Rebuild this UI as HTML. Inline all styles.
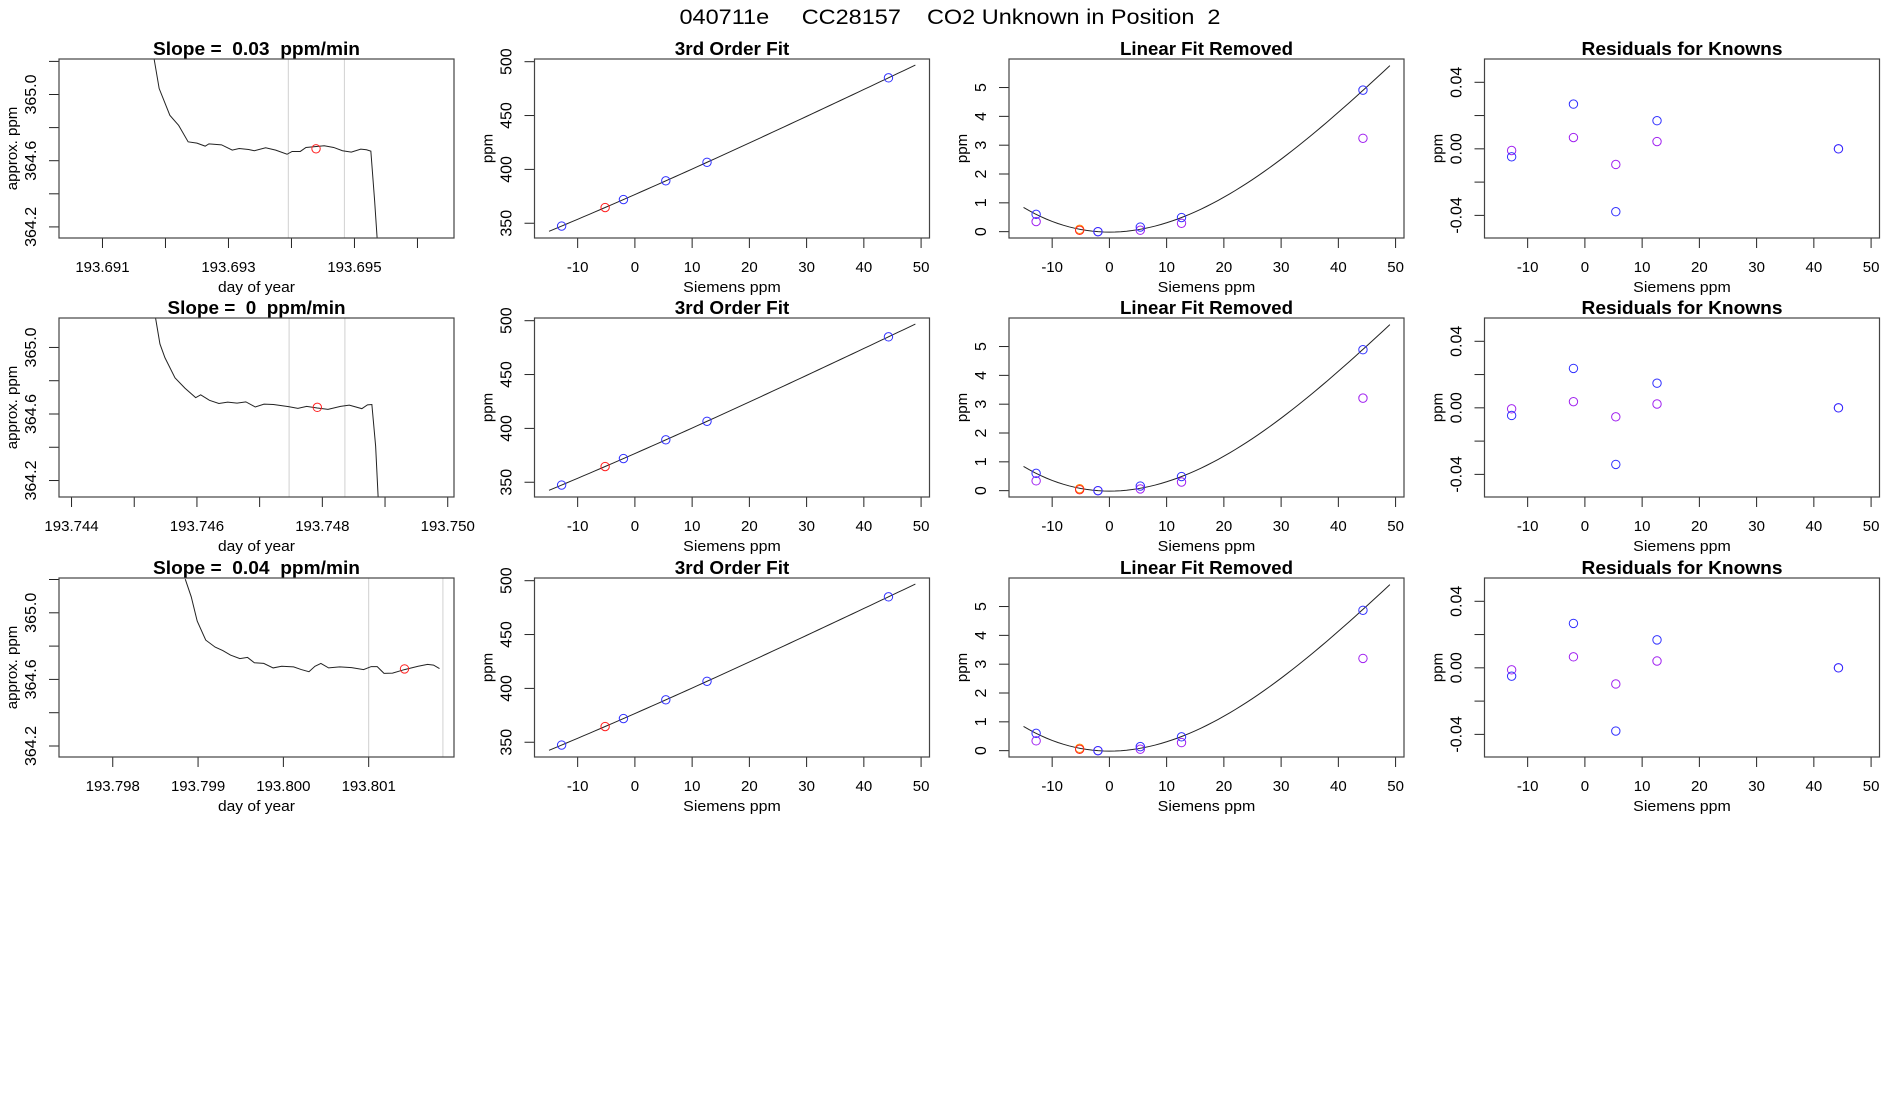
<!DOCTYPE html>
<html><head><meta charset="utf-8"><style>
html,body{margin:0;padding:0;background:#fff;}
svg{display:block;font-family:"Liberation Sans",Arial,sans-serif;}
</style></head><body>
<svg id="fig" width="1900" height="1100" viewBox="0 0 1900 1100" xmlns="http://www.w3.org/2000/svg">
<rect x="0" y="0" width="1900" height="1100" fill="#fff"/>
<text x="950" y="24" text-anchor="middle" font-size="21" textLength="541" lengthAdjust="spacingAndGlyphs" style="white-space:pre">040711e     CC28157    CO2 Unknown in Position  2</text>
</svg>
<script>
// ---- Time-series panels (column 1) ----
const row1Times=[193.69182,193.69190,193.69207,193.69221,193.69236,193.69250,193.69263,193.69269,193.69289,193.69306,193.69317,193.69332,193.69341,193.69359,193.69375,193.69393,193.69401,193.69414,193.69423,193.69452,193.69467,193.69481,193.69495,193.69510,193.69519,193.69526,193.69532,193.69536];
const row1Values=[365.214,365.036,364.874,364.813,364.714,364.706,364.688,364.702,364.696,364.664,364.674,364.668,364.660,364.678,364.664,364.639,364.656,364.656,364.680,364.690,364.680,364.660,364.652,364.670,364.666,364.658,364.358,364.131];
const row2Times=[193.74534,193.74541,193.74549,193.74565,193.74581,193.74598,193.74606,193.74620,193.74635,193.74649,193.74664,193.74678,193.74693,193.74707,193.74722,193.74746,193.74761,193.74775,193.74792,193.74809,193.74829,193.74843,193.74863,193.74872,193.74879,193.74885,193.74889];
const row2Values=[365.177,365.021,364.938,364.817,364.755,364.698,364.715,364.682,364.663,364.671,364.665,364.673,364.642,364.659,364.657,364.644,364.634,364.646,364.636,364.628,364.646,364.653,364.632,364.655,364.657,364.407,364.101];
const row3Times=[193.79885,193.79892,193.79899,193.79909,193.79920,193.79929,193.79938,193.79949,193.79958,193.79966,193.79977,193.79988,193.79998,193.80012,193.80021,193.80030,193.80037,193.80044,193.80053,193.80066,193.80080,193.80094,193.80103,193.80110,193.80118,193.80128,193.80142,193.80158,193.80169,193.80176,193.80183];
const row3Values=[365.202,365.096,364.950,364.836,364.794,364.773,364.746,364.725,364.732,364.700,364.696,364.669,364.679,364.675,364.659,364.646,364.679,364.696,364.669,364.675,364.671,364.659,364.677,364.677,364.636,364.638,364.659,364.679,364.690,364.686,364.665];
const markTimes=[193.69439,193.74792,193.80142];
const markValues=[364.672,364.640,364.663];
const windowStart=[193.69395,193.74747,193.80100];
const windowEnd=[193.69484,193.74836,193.80187];
const slopeLabels=["0.03","0","0.04"];
const xRanges=[[193.69031,193.69658],[193.7438,193.7501],[193.79737,193.80200]];
const yRanges=[[364.133,365.2145],[364.101,365.177],[364.134,365.209]];
const xTicks=[[193.691,193.692,193.693,193.694,193.695,193.696],[193.744,193.745,193.746,193.747,193.748,193.749,193.750],[193.798,193.799,193.800,193.801]];
const xTickLabels=[["193.691","","193.693","","193.695",""],["193.744","","193.746","","193.748","","193.750"],["193.798","193.799","193.800","193.801"]];
const yTicks1=[364.2,364.4,364.6,364.8,365.0,365.2];
const yTickLabels1=["364.2","","364.6","","365.0",""];
// ---- Calibration panels ----
const siemensX=[-12.8,-5.2,-2.0,5.4,12.6,44.3];
const fitPpm=[347.4,364.6,372.0,389.4,406.6,485.0];
const linSlope=[2.335]; const linIntercept=[376.67];
const lfrCoef=[-0.0144,-0.0002,0.003462,-0.0000215];
const lfrBlue=[[0.60,0.00,0.16,0.49,4.91],[0.60,0.00,0.16,0.49,4.89],[0.60,0.00,0.14,0.48,4.87]];
const lfrPurple=[[0.35,0.00,0.05,0.29,3.24],[0.34,0.00,0.06,0.30,3.21],[0.34,0.00,0.05,0.28,3.20]];
const lfrOrange=[0.08,0.07,0.08];
const knownX=[-12.8,-2.0,5.4,12.6,44.3];
const residBlue=[[-0.0048,0.0269,-0.0378,0.0169,0.0],[-0.0046,0.0237,-0.0340,0.0148,0.0],[-0.0050,0.0267,-0.0380,0.0168,0.0]];
const residPurple=[[-0.0010,0.0068,-0.0094,0.0044,0.0],[-0.0006,0.0037,-0.0054,0.0023,0.0],[-0.0012,0.0066,-0.0097,0.0041,0.0]];
const sTicks=[-10,0,10,20,30,40,50];
const ppmTicks=[350,400,450,500];
const lfrTicks=[0,1,2,3,4,5];
const resTicks=[-0.04,-0.02,0,0.02,0.04];
const resTickLabels=["-0.04","","0.00","","0.04"];

const NS="http://www.w3.org/2000/svg";
const svg=document.getElementById('fig');
const rowTop=[59,318,578], lefts=[59,534.5,1009,1484.5], PW=395, PH=179;
function el(tag,attrs,parent){const e=document.createElementNS(NS,tag);for(const k in attrs)e.setAttribute(k,attrs[k]);(parent||svg).appendChild(e);return e;}
function sc(d0,d1,r0,r1){return v=>r0+(v-d0)/(d1-d0)*(r1-r0);}
let clipId=0;
function panel(L,T,title,titleLen,xt,xtl,xs,yt,ytl,ys,xlab,xlabLen,ylab,name){
  const g=el('g',{});
  
  
  const B=T+PH,R=L+PW;
  const cid='c'+(clipId++);
  const cp=el('clipPath',{id:cid},g);el('rect',{x:L,y:T,width:PW,height:PH},cp);
  const t=el('text',{x:L+PW/2,y:T-4,'text-anchor':'middle','font-size':18,'font-weight':'bold',textLength:titleLen,lengthAdjust:'spacingAndGlyphs',style:'white-space:pre'},g);
  t.textContent=title;
  
  
  const ax=el('g',{},g);
  
  
  const xp=xt.map(xs);
  el('line',{x1:xp[0],x2:xp[xp.length-1],y1:B,y2:B,stroke:'#222','stroke-width':1},ax);
  xt.forEach((v,i)=>{const x=xs(v);el('line',{x1:x,x2:x,y1:B,y2:B+10,stroke:'#222'},ax);
    if(xtl[i]){const tx=el('text',{x:x,y:B+34,'text-anchor':'middle','font-size':15},ax);tx.textContent=xtl[i];
    
    }});
  const ay=el('g',{},g);
  
  
  const yp=yt.map(ys);
  el('line',{x1:L,x2:L,y1:yp[0],y2:yp[yp.length-1],stroke:'#222'},ay);
  yt.forEach((v,i)=>{const y=ys(v);el('line',{x1:L-10,x2:L,y1:y,y2:y,stroke:'#222'},ay);
    if(ytl[i]){const ty=el('text',{x:0,y:0,'text-anchor':'middle','font-size':16,transform:`translate(${L-23},${y}) rotate(-90)`},ay);ty.textContent=ytl[i];
    
    }});
  const xl=el('text',{x:L+PW/2,y:B+54,'text-anchor':'middle','font-size':15,textLength:xlabLen,lengthAdjust:'spacingAndGlyphs'},g);xl.textContent=xlab;
  
  
  const yl=el('text',{x:0,y:0,'text-anchor':'middle','font-size':15,transform:`translate(${L-42},${T+PH/2}) rotate(-90)`},g);yl.textContent=ylab;
  
  
  const plot=el('g',{'clip-path':`url(#${cid})`},g);
  el('rect',{x:L,y:T,width:PW,height:PH,fill:'none',stroke:'#444','stroke-width':1.2},g);
  return plot;
}
function circ(p,x,y,col,name){const c=el('circle',{cx:x,cy:y,r:4.2,fill:'none',stroke:col,'stroke-width':1},p);
  
  return c;}
const series=[[row1Times,row1Values],[row2Times,row2Values],[row3Times,row3Values]];
const sx=sc(-17.54,51.47,0,PW);
for(let r=0;r<3;r++){
  const T=rowTop[r],B=T+PH;
  let L=lefts[0];
  let xs=sc(xRanges[r][0],xRanges[r][1],L,L+PW), ys=sc(yRanges[r][0],yRanges[r][1],B,T);
  const yt=yTicks1.filter(v=>v<=yRanges[r][1]+0.01), ytl=yTickLabels1.slice(0,yt.length);
  let p=panel(L,T,`Slope =  ${slopeLabels[r]}  ppm/min`,slopeLabels[r].length>1?207:178,xTicks[r],xTickLabels[r],xs,yt,ytl,ys,'day of year',77,'approx. ppm','time-series-panel-'+(r+1));
  [windowStart[r],windowEnd[r]].forEach(w=>{const ln=el('line',{x1:xs(w),x2:xs(w),y1:T,y2:B,stroke:'#d0d0d0'},p);
    
    });
  const pl=el('polyline',{points:series[r][0].map((t,i)=>xs(t)+','+ys(series[r][1][i])).join(' '),fill:'none',stroke:'#222','stroke-width':1},p);
  
  
  circ(p,xs(markTimes[r]),ys(markValues[r]),'#ff2020','sample-mean-point');
  L=lefts[1]; xs=v=>L+sx(v); ys=sc(336.3,502.5,B,T);
  p=panel(L,T,'3rd Order Fit',114.5,sTicks,sTicks.map(String),xs,ppmTicks,ppmTicks.map(String),ys,'Siemens ppm',97.6,'ppm','fit-panel-'+(r+1));
  const fx=[];for(let x=-15;x<=49.01;x+=1)fx.push(x);
  const lfr=x=>lfrCoef[0]+lfrCoef[1]*x+lfrCoef[2]*x*x+lfrCoef[3]*x*x*x;
  const fl=el('polyline',{points:fx.map(x=>xs(x)+','+ys(linIntercept[0]+linSlope[0]*x+lfr(x))).join(' '),fill:'none',stroke:'#222'},p);
  
  
  siemensX.forEach((x,i)=>circ(p,xs(x),ys(fitPpm[i]),i===1?'#ff2020':'#3030ff','fit-point'));
  L=lefts[2]; const xs3=v=>L+sx(v); ys=sc(-0.22,5.99,B,T);
  p=panel(L,T,'Linear Fit Removed',173,sTicks,sTicks.map(String),xs3,lfrTicks,lfrTicks.map(String),ys,'Siemens ppm',97.6,'ppm','linear-removed-panel-'+(r+1));
  const cl=el('polyline',{points:fx.map(x=>xs3(x)+','+ys(lfr(x))).join(' '),fill:'none',stroke:'#222'},p);
  
  
  knownX.forEach((x,i)=>circ(p,xs3(x),ys(lfrPurple[r][i]),'#a020f0','purple-point'));
  knownX.forEach((x,i)=>circ(p,xs3(x),ys(lfrBlue[r][i]),'#3030ff','blue-point'));
  circ(p,xs3(siemensX[1]),ys(lfrOrange[r]),'#ff8c00','unknown-orange-point');
  circ(p,xs3(siemensX[1]),ys(lfrOrange[r])+1,'#ff2020','unknown-red-point');
  L=lefts[3]; const xs4=v=>L+sx(v); ys=sc(-0.0536,0.054,B,T);
  p=panel(L,T,'Residuals for Knowns',201,sTicks,sTicks.map(String),xs4,resTicks,resTickLabels,ys,'Siemens ppm',97.6,'ppm','residuals-panel-'+(r+1));
  knownX.forEach((x,i)=>circ(p,xs4(x),ys(residPurple[r][i]),'#a020f0','purple-residual'));
  knownX.forEach((x,i)=>circ(p,xs4(x),ys(residBlue[r][i]),'#3030ff','blue-residual'));
}
</script>
</body></html>
